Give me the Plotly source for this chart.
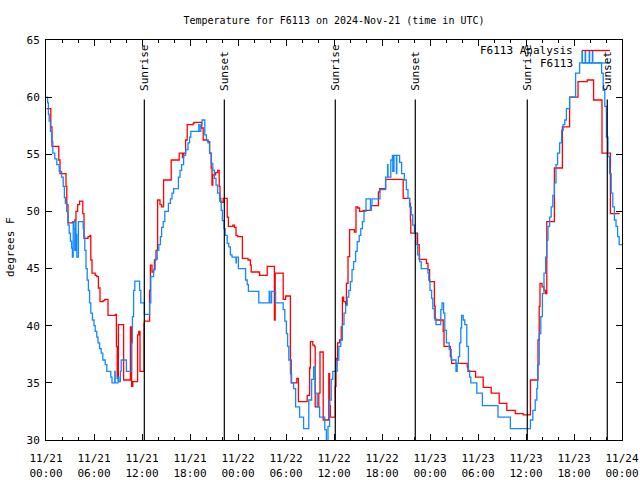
import pandas as pd
import plotly.graph_objects as go

# ---------------- data ----------------
start_time = "2024-11-21 00:00"

analysis_hours = [0.05, 0.6, 0.75, 1.6, 1.75, 2.5, 2.6, 2.75, 3.35, 3.6, 3.75, 3.95, 4.2, 4.6, 4.75,
                  5.25, 5.5, 5.6, 5.75, 6.15, 6.35, 6.55, 6.75, 7.15, 7.35, 7.75, 8.7, 8.8, 8.9, 9.05,
                  9.7, 10.55, 10.7, 10.85, 11.45, 11.6, 11.75, 12.25, 12.3, 12.95, 13.05, 13.25, 13.45,
                  13.55, 13.75, 13.95, 14.25, 14.45, 14.7, 15.65, 16.65, 17.05, 17.2, 17.45, 17.65,
                  18.4, 18.5, 19.45, 19.65, 20.25, 20.45, 20.65, 20.75, 20.85, 21.2, 21.45, 21.65,
                  21.75, 21.85, 22.15, 22.65, 22.8, 23.35, 23.55, 23.75, 23.95, 24.55, 25.25, 25.55,
                  25.65, 26.7, 27.65, 28.55, 28.65, 29.65, 29.95, 30.55, 30.65, 31.35, 31.55, 32.65,
                  32.95, 33.05, 33.35, 33.55, 33.65, 34.1, 34.25, 34.65, 35.35, 35.45, 35.55, 36.15,
                  36.25, 36.35, 36.45, 36.7, 36.9, 37.05, 37.2, 37.45, 37.55, 37.75, 37.95, 38.55,
                  38.75, 38.95, 39.2, 39.65, 40.65, 41.55, 41.7, 42.45, 44.65, 45.45, 45.55, 45.6,
                  46.45, 46.65, 47.55, 47.75, 47.95, 48.55, 48.65, 49.65, 49.75, 50.55, 50.7, 52.65,
                  52.75, 53.7, 54.65, 55.65, 56.65, 57.6, 58.65, 59.65, 60.55, 61.5, 61.65, 61.75,
                  62.0, 62.25, 62.45, 62.6, 63.55, 64.55, 65.45, 66.5, 67.65, 68.45, 69.5, 70.55, 71.7]
analysis_temps = [59.0, 57.4, 55.7, 54.5, 53.3, 52.2, 50.6, 49.0, 49.1, 49.25, 50.0, 50.6, 50.9, 49.8, 47.65,
                  47.8, 47.9, 45.75, 44.6, 44.4, 44.3, 43.3, 42.1, 42.2, 42.3, 40.9, 41.0, 38.2, 35.4, 40.1,
                  35.25, 39.9, 34.7, 35.1, 39.2, 39.5, 36.0, 40.2, 40.4, 43.1, 45.3, 44.7, 44.9,
                  45.75, 46.6, 51.0, 50.6, 50.4, 52.75, 54.5, 55.1, 54.7, 55.1, 56.25, 57.6,
                  57.7, 57.8, 57.3, 56.25, 56.1, 55.1, 53.8, 52.3, 53.2, 53.4, 53.6, 52.2,
                  51.15, 50.8, 51.15, 49.5, 48.7, 48.8, 48.6, 47.9, 47.8, 45.9, 45.75, 45.3,
                  44.7, 44.4, 45.2, 40.5, 44.6, 42.3, 42.6, 37.0, 35.0, 35.4, 33.35, 33.9,
                  36.3, 38.6, 38.3, 38.2, 32.9, 34.1, 37.7, 31.75, 35.8, 33.0, 32.0, 34.7,
                  37.15, 37.0, 38.5, 38.75, 39.9, 42.5, 42.1, 41.8, 43.7, 46.05, 48.4, 48.2,
                  50.4, 50.3, 50.0, 50.1, 50.5, 51.7, 52.0, 52.8, 51.15, 50.7, 49.25, 48.1,
                  47.1, 45.8, 45.45, 44.9, 43.85, 41.7, 40.5, 39.5, 38.2, 37.3, 36.7, 36.4,
                  36.0, 35.5, 34.6, 34.1, 33.2, 32.6, 32.3, 32.2, 35.25, 38.75, 41.7, 43.7,
                  43.4, 43.1, 42.8, 49.1, 53.8, 57.4, 60.0, 61.35, 61.5, 59.75, 55.1, 49.8, 49.8]

observed_hours = [0.05, 0.2, 0.3, 0.4, 0.55, 0.7, 0.85, 1.1, 1.35, 1.65, 1.95, 2.15, 2.3, 2.42, 2.58,
                  2.75, 2.9, 3.05, 3.2, 3.3, 3.4, 3.5, 3.6, 3.7, 3.75, 3.85, 4.05, 4.65, 4.75, 4.85,
                  5.0, 5.15, 5.3, 5.45, 5.6, 5.8, 6.0, 6.15, 6.35, 6.5, 6.7, 6.9, 7.1, 7.4, 7.6, 8.1,
                  8.25, 8.6, 8.65, 9.0, 9.1, 9.3, 9.4, 10.05, 10.7, 10.8, 10.95, 11.1, 11.7, 11.85,
                  12.3, 12.95, 13.1, 13.45, 13.65, 13.9, 14.1, 14.3, 14.45, 14.65, 14.85, 15.3,
                  15.55, 15.75, 15.95, 16.55, 16.75, 16.95, 17.2, 17.45, 17.75, 17.95, 18.1, 19.1,
                  19.15, 19.35, 19.5, 19.85, 20.05, 20.25, 20.45, 20.65, 20.85, 21.05, 21.25, 21.45,
                  21.7, 21.9, 22.05, 22.25, 22.4, 22.65, 22.85, 23.05, 23.25, 23.75, 23.8, 24.05,
                  24.95, 25.15, 25.3, 26.6, 27.9, 28.0, 28.2, 28.7, 29.65, 29.85, 30.05, 30.2, 30.35,
                  30.55, 30.7, 30.95, 31.2, 31.7, 32.2, 32.85, 33.2, 33.45, 33.65, 33.9, 34.2, 34.85,
                  35.05, 35.25, 35.45, 35.65, 35.85, 36.4, 36.6, 36.85, 37.05, 37.25, 37.45, 37.65,
                  37.85, 38.05, 38.25, 38.45, 38.7, 38.9, 39.15, 39.35, 39.55, 39.75, 40.0, 40.55,
                  40.65, 40.75, 41.75, 42.45, 42.7, 42.75, 43.1, 43.3, 43.35, 43.5, 43.8, 43.85, 44.2,
                  44.45, 44.8, 45.05, 45.25, 45.45, 45.65, 45.85, 46.05, 46.25, 46.45, 46.7, 46.9,
                  47.75, 47.85, 48.0, 48.2, 48.35, 48.55, 48.75, 49.35, 49.5, 49.7, 49.85, 50.05,
                  50.4, 50.65, 51.25, 51.4, 51.55, 51.7, 51.85, 51.95, 52.15, 52.35, 52.6, 52.8,
                  52.95, 53.1, 53.85, 54.55, 56.5, 58.05, 60.55, 60.85, 61.15, 61.35, 61.45, 61.65,
                  61.85, 62.05, 62.25, 62.45, 62.6, 62.75, 62.95, 63.15, 63.35, 63.55, 63.75, 63.95,
                  64.2, 64.45, 64.65, 64.85, 65.05, 65.45, 66.2, 66.7, 67.0, 67.05, 67.4, 67.45, 67.9,
                  67.95, 68.3, 68.35, 69.45, 69.65, 69.85, 70.05, 70.25, 70.45, 70.65, 70.85, 71.05,
                  71.25, 71.45, 71.65, 72.0]
observed_temps = [60.0, 59.5, 58.5, 57.9, 57.0, 56.1, 55.1, 54.6, 54.1, 53.5, 53.0, 52.2, 51.2, 50.7, 50.0,
                  48.8, 48.1, 47.4, 46.8, 46.0, 49.1, 48.5, 46.6, 49.1, 48.0, 46.0, 49.1, 48.5, 47.8, 46.6,
                  45.0, 44.0, 43.1, 42.0, 41.1, 40.5, 40.0, 39.5, 39.0, 38.5, 38.0, 37.6, 37.0, 36.6, 36.0, 35.5,
                  35.0, 36.0, 35.0, 35.5, 35.1, 36.0, 37.0, 36.0, 38.5, 40.8, 43.1, 43.9, 43.1, 42.0,
                  41.0, 42.0, 44.3, 44.9, 45.8, 46.6, 47.1, 47.8, 48.6, 49.1, 50.0, 50.7,
                  51.1, 51.6, 52.0, 53.0, 53.6, 54.1, 54.9, 55.4, 56.0, 56.5, 57.0, 57.6,
                  57.0, 57.6, 58.0, 56.7, 56.2, 56.0, 55.1, 54.2, 53.6, 52.9, 52.3, 51.6,
                  50.9, 50.1, 49.2, 48.5, 47.9, 47.2, 46.9, 46.2, 46.0, 45.5, 46.0, 45.0,
                  44.0, 43.6, 43.0, 42.0, 43.0, 42.0, 43.0, 42.0, 41.4, 40.4, 39.3, 38.2, 37.0,
                  35.8, 35.0, 34.5, 32.9, 32.0, 31.0, 33.5, 35.3, 36.4, 34.1, 32.9, 32.0, 30.9,
                  29.8, 31.2, 33.5, 35.3, 36.0, 37.0, 38.2, 38.75, 40.1, 41.1, 41.8, 42.5,
                  43.1, 43.85, 44.9, 45.6, 46.5, 47.35, 47.9, 48.5, 49.1, 50.0, 51.1, 50.1,
                  50.5, 51.1, 51.9, 53.0, 54.1, 53.0, 54.5, 54.9, 53.5, 54.9, 53.3, 54.9, 54.3,
                  53.3, 52.75, 51.9, 51.15, 50.4, 49.7, 48.8, 48.1, 47.1, 46.2, 45.6, 45.0,
                  44.6, 44.0, 43.1, 42.4, 41.5, 40.65, 40.1, 41.4, 42.0, 41.1, 39.6, 38.5,
                  37.9, 37.0, 36.0, 36.7, 37.3, 38.5, 39.8, 40.9, 40.5, 40.1, 38.2, 36.1,
                  35.5, 35.0, 34.1, 33.0, 32.0, 31.0, 31.75, 32.6, 33.5, 34.5, 36.6, 39.3,
                  40.8, 42.8, 44.6, 46.0, 47.5, 48.7, 49.5, 50.4, 51.4, 52.5, 54.1, 55.1,
                  56.0, 57.1, 57.6, 58.0, 59.0, 60.0, 62.1, 63.0, 64.0, 63.0, 64.0, 63.0, 64.0,
                  63.0, 64.0, 63.0, 62.1, 60.6, 59.2, 56.5, 54.8, 53.3, 51.6, 50.4, 49.25,
                  48.7, 47.8, 47.1, 47.1]

sun_event_hours = [12.29, 22.29, 36.16, 46.16, 60.16, 70.16]
sun_event_labels = ["Sunrise", "Sunset", "Sunrise", "Sunset", "Sunrise", "Sunset"]

series_names = ["F6113 Analysis", "F6113"]
title_text = "Temperature for F6113 on 2024-Nov-21 (time in UTC)"
y_title = "degrees F"
y_range = [30, 65]

# ---------------- figure ----------------
base = pd.Timestamp(start_time)
to_time = lambda hrs: base + pd.to_timedelta(pd.Series(hrs), unit="h")

RED = "#ff0000"
BLUE = "#1188ff"
FONT = "DejaVu Sans Mono"
FS = 10

fig = go.Figure()
fig.add_trace(go.Scatter(x=to_time(analysis_hours), y=analysis_temps, mode="lines",
                         line=dict(color=RED, width=1.3, shape="hv"), name=series_names[0]))
fig.add_trace(go.Scatter(x=to_time(observed_hours), y=observed_temps, mode="lines",
                         line=dict(color=BLUE, width=1.3, shape="hv"), name=series_names[1]))

ev_times = to_time(sun_event_hours)
for t, lab in zip(ev_times, sun_event_labels):
    fig.add_shape(type="line", xref="x", yref="y", x0=t, x1=t, y0=y_range[0], y1=59.8,
                  line=dict(color="black", width=1.2))
    fig.add_annotation(x=t, y=60.4, xref="x", yref="y", text=lab, textangle=-90,
                       showarrow=False, xanchor="center", yanchor="bottom",
                       font=dict(family=FONT, size=FS + 1, color="black"))

# gnuplot-style legend (text, then line sample)
L, W, T, H = 46, 576, 40, 400
px = lambda x: (x - L) / W
py = lambda y: 1 - (y - T) / H
for i, (nm, col) in enumerate(zip(series_names, [RED, BLUE])):
    yy = 50.5 + 12.5 * i
    fig.add_annotation(x=px(575), y=py(yy), xref="paper", yref="paper", text=nm,
                       showarrow=False, xanchor="right", yanchor="middle",
                       font=dict(family=FONT, size=FS + 1, color="black"))
    fig.add_shape(type="line", xref="paper", yref="paper", x0=px(582), x1=px(610),
                  y0=py(yy), y1=py(yy), line=dict(color=col, width=1.3))

# y-axis title as rotated text left of the axis
fig.add_annotation(x=px(11), y=py(247), xref="paper", yref="paper", text=y_title,
                   textangle=-90, showarrow=False, xanchor="center", yanchor="middle",
                   font=dict(family=FONT, size=FS + 1, color="black"))

fig.update_layout(
    width=640, height=480,
    margin=dict(l=46, r=18, t=40, b=40, autoexpand=False),
    paper_bgcolor="white", plot_bgcolor="white",
    showlegend=False,
    title=dict(text=title_text, x=334 / 640, xanchor="center", y=1 - 20 / 480, yanchor="middle",
               yref="container", xref="container",
               font=dict(family=FONT, size=FS, color="black")),
    font=dict(family=FONT, size=FS, color="black"),
)
fig.update_xaxes(
    type="date", range=[base, base + pd.Timedelta(hours=72)], automargin=False,
    tick0=base, dtick=6 * 3600 * 1000, tickformat="%m/%d<br>%H:%M",
    ticks="inside", ticklen=6, tickcolor="black", tickwidth=1,
    showline=True, linecolor="black", linewidth=1, mirror="ticks",
    showgrid=False, zeroline=False, ticklabelstandoff=8,
    minor=dict(dtick=2 * 3600 * 1000, ticks="inside", ticklen=3, tickcolor="black", showgrid=False),
    tickfont=dict(family=FONT, size=FS + 1),
)
fig.update_yaxes(
    range=y_range, dtick=5, ticks="inside", ticklen=6, tickcolor="black", tickwidth=1,
    showline=True, linecolor="black", linewidth=1, mirror="ticks", automargin=False,
    showgrid=False, zeroline=False, ticklabelstandoff=3,
    tickfont=dict(family=FONT, size=FS + 1),
)

fig.write_html("out.html", config={"displayModeBar": False},
               post_script="document.body.style.margin='0';document.body.style.overflow='hidden';")
